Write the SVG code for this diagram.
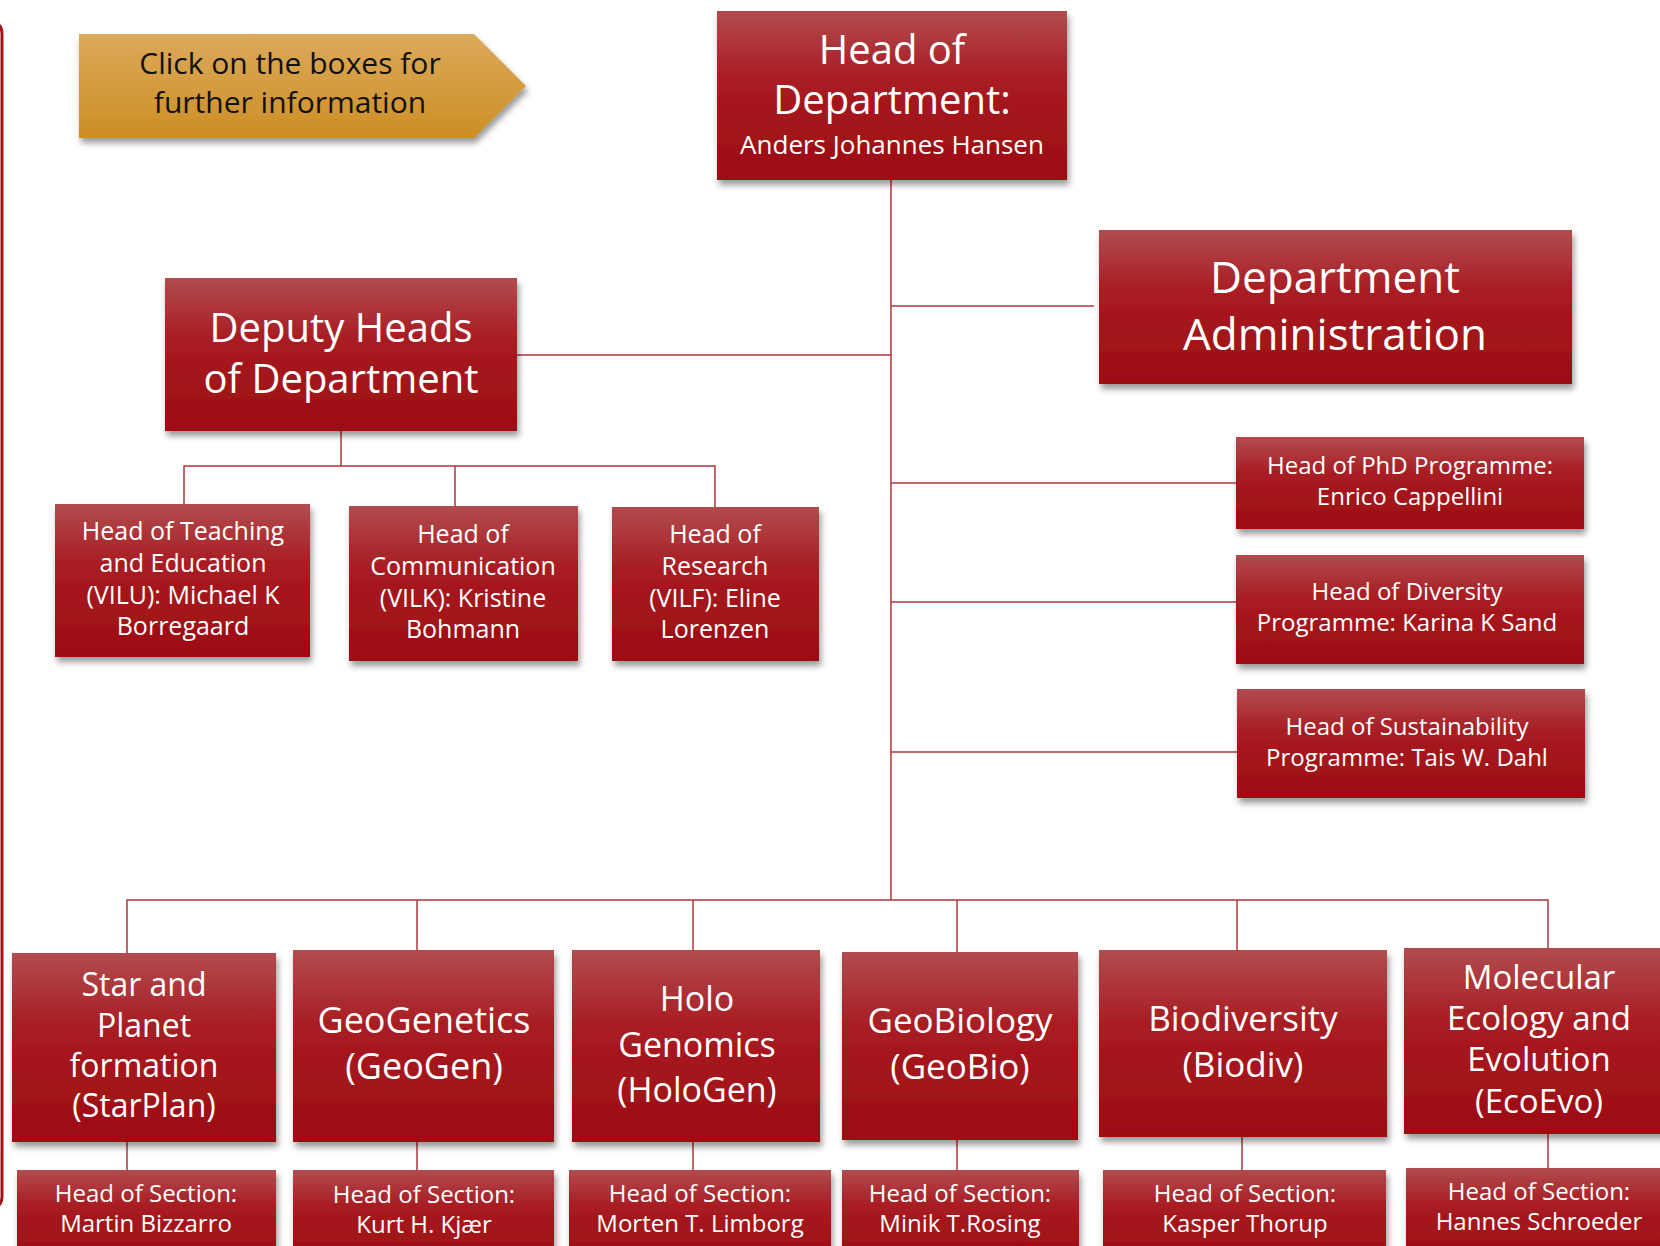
<svg xmlns="http://www.w3.org/2000/svg" width="1660" height="1246" viewBox="0 0 1660 1246">
<defs>
<linearGradient id="red" x1="0" y1="0" x2="0" y2="1">
<stop offset="0" stop-color="#B14C4F"/>
<stop offset="0.4" stop-color="#A81C22"/>
<stop offset="1" stop-color="#9C0C11"/>
</linearGradient>
<linearGradient id="gold" x1="0" y1="0" x2="0" y2="1">
<stop offset="0" stop-color="#DCAA5C"/>
<stop offset="1" stop-color="#CD8E24"/>
</linearGradient>
<filter id="sh" x="-10%" y="-10%" width="125%" height="130%">
<feDropShadow dx="2" dy="5" stdDeviation="3" flood-color="#000" flood-opacity="0.4"/>
</filter>
</defs>
<style>
.box{fill:url(#red);filter:url(#sh)}
.t{fill:#fff;font-family:"Open Sans","Noto Sans","DejaVu Sans",sans-serif;text-anchor:middle}
.c{fill:none;stroke:#B3353D;stroke-width:1.5}
</style>
<rect width="1660" height="1246" fill="#fff"/>
<path d="M -10 22 Q 2 22 2 34 L 2 1196 Q 2 1208 -10 1208" fill="none" stroke="#A3151B" stroke-width="3"/>

<g id="connectors">
<path class="c" d="M 891 180 V 900"/>
<path class="c" d="M 891 306 H 1094"/>
<path class="c" d="M 517 355 H 891"/>
<path class="c" d="M 891 483 H 1236"/>
<path class="c" d="M 891 602 H 1236"/>
<path class="c" d="M 891 752 H 1237"/>
<path class="c" d="M 341 431 V 466"/>
<path class="c" d="M 184 504 V 466 H 715 V 507"/>
<path class="c" d="M 455 466 V 506"/>
<path class="c" d="M 127 953 V 900 H 1548 V 948"/>
<path class="c" d="M 417 900 V 950"/>
<path class="c" d="M 693 900 V 950"/>
<path class="c" d="M 957 900 V 952"/>
<path class="c" d="M 1237 900 V 950"/>
<path class="c" d="M 127 1142 V 1170"/>
<path class="c" d="M 417 1142 V 1170"/>
<path class="c" d="M 693 1142 V 1170"/>
<path class="c" d="M 957 1140 V 1170"/>
<path class="c" d="M 1242 1137 V 1170"/>
<path class="c" d="M 1548 1134 V 1168"/>
</g>

<g id="hint">
<polygon points="79,34 474,34 526,86 474,138 79,138" fill="url(#gold)" filter="url(#sh)"/>
<text font-family="Open Sans, Noto Sans, sans-serif" font-size="30" fill="#111" text-anchor="middle"><tspan x="290" y="74">Click on the boxes for</tspan><tspan x="290" y="113">further information</tspan></text>
</g>

<g id="head">
<rect class="box" x="717" y="11" width="350" height="169"/>
<text class="t" font-size="40"><tspan x="892" y="64">Head of</tspan><tspan x="892" y="114">Department:</tspan></text>
<text class="t" font-size="26" x="892" y="154">Anders Johannes Hansen</text>
</g>

<g id="admin">
<rect class="box" x="1099" y="230" width="473" height="154"/>
<text class="t" font-size="44"><tspan x="1335" y="293">Department</tspan><tspan x="1335" y="350">Administration</tspan></text>
</g>

<g id="deputy">
<rect class="box" x="165" y="278" width="352" height="153"/>
<text class="t" font-size="40"><tspan x="341" y="342">Deputy Heads</tspan><tspan x="341" y="393">of Department</tspan></text>
</g>

<g id="vilu">
<rect class="box" x="55" y="504" width="255" height="153"/>
<text class="t" font-size="25"><tspan x="183" y="540">Head of Teaching</tspan><tspan x="183" y="572">and Education</tspan><tspan x="183" y="604">(VILU): Michael K</tspan><tspan x="183" y="635">Borregaard</tspan></text>
</g>

<g id="vilk">
<rect class="box" x="349" y="506" width="229" height="155"/>
<text class="t" font-size="25"><tspan x="463" y="543">Head of</tspan><tspan x="463" y="575">Communication</tspan><tspan x="463" y="607">(VILK): Kristine</tspan><tspan x="463" y="638">Bohmann</tspan></text>
</g>

<g id="vilf">
<rect class="box" x="612" y="507" width="207" height="154"/>
<text class="t" font-size="25"><tspan x="715" y="543">Head of</tspan><tspan x="715" y="575">Research</tspan><tspan x="715" y="607">(VILF): Eline</tspan><tspan x="715" y="638">Lorenzen</tspan></text>
</g>

<g id="phd">
<rect class="box" x="1236" y="437" width="348" height="92"/>
<text class="t" font-size="24"><tspan x="1410" y="474">Head of PhD Programme:</tspan><tspan x="1410" y="505">Enrico Cappellini</tspan></text>
</g>

<g id="diversity">
<rect class="box" x="1236" y="555" width="348" height="109"/>
<text class="t" font-size="24"><tspan x="1407" y="600">Head of Diversity</tspan><tspan x="1407" y="631">Programme: Karina K Sand</tspan></text>
</g>

<g id="sustainability">
<rect class="box" x="1237" y="689" width="348" height="109"/>
<text class="t" font-size="24"><tspan x="1407" y="735">Head of Sustainability</tspan><tspan x="1407" y="766">Programme: Tais W. Dahl</tspan></text>
</g>

<g id="starplan">
<rect class="box" x="12" y="953" width="264" height="189"/>
<text class="t" font-size="32"><tspan x="144" y="996">Star and</tspan><tspan x="144" y="1037">Planet</tspan><tspan x="144" y="1077">formation</tspan><tspan x="144" y="1117">(StarPlan)</tspan></text>
</g>

<g id="geogen">
<rect class="box" x="293" y="950" width="261" height="192"/>
<text class="t" font-size="36"><tspan x="424" y="1033">GeoGenetics</tspan><tspan x="424" y="1079">(GeoGen)</tspan></text>
</g>

<g id="hologen">
<rect class="box" x="572" y="950" width="248" height="192"/>
<text class="t" font-size="34"><tspan x="697" y="1011">Holo</tspan><tspan x="697" y="1057">Genomics</tspan><tspan x="697" y="1102">(HoloGen)</tspan></text>
</g>

<g id="geobio">
<rect class="box" x="842" y="952" width="236" height="188"/>
<text class="t" font-size="35"><tspan x="960" y="1033">GeoBiology</tspan><tspan x="960" y="1079">(GeoBio)</tspan></text>
</g>

<g id="biodiv">
<rect class="box" x="1099" y="950" width="288" height="187"/>
<text class="t" font-size="35"><tspan x="1243" y="1031">Biodiversity</tspan><tspan x="1243" y="1077">(Biodiv)</tspan></text>
</g>

<g id="ecoevo">
<rect class="box" x="1404" y="948" width="270" height="186"/>
<text class="t" font-size="33"><tspan x="1539" y="989">Molecular</tspan><tspan x="1539" y="1030">Ecology and</tspan><tspan x="1539" y="1071">Evolution</tspan><tspan x="1539" y="1113">(EcoEvo)</tspan></text>
</g>

<g id="hos1">
<rect class="box" x="17" y="1170" width="259" height="90"/>
<text class="t" font-size="24"><tspan x="146" y="1202">Head of Section:</tspan><tspan x="146" y="1232">Martin Bizzarro</tspan></text>
</g>
<g id="hos2">
<rect class="box" x="293" y="1170" width="261" height="90"/>
<text class="t" font-size="24"><tspan x="424" y="1203">Head of Section:</tspan><tspan x="424" y="1233">Kurt H. Kjær</tspan></text>
</g>
<g id="hos3">
<rect class="box" x="569" y="1170" width="262" height="90"/>
<text class="t" font-size="24"><tspan x="700" y="1202">Head of Section:</tspan><tspan x="700" y="1232">Morten T. Limborg</tspan></text>
</g>
<g id="hos4">
<rect class="box" x="842" y="1170" width="237" height="90"/>
<text class="t" font-size="24"><tspan x="960" y="1202">Head of Section:</tspan><tspan x="960" y="1232">Minik T.Rosing</tspan></text>
</g>
<g id="hos5">
<rect class="box" x="1103" y="1170" width="283" height="90"/>
<text class="t" font-size="24"><tspan x="1245" y="1202">Head of Section:</tspan><tspan x="1245" y="1232">Kasper Thorup</tspan></text>
</g>
<g id="hos6">
<rect class="box" x="1406" y="1168" width="270" height="92"/>
<text class="t" font-size="24"><tspan x="1539" y="1200">Head of Section:</tspan><tspan x="1539" y="1230">Hannes Schroeder</tspan></text>
</g>
</svg>
